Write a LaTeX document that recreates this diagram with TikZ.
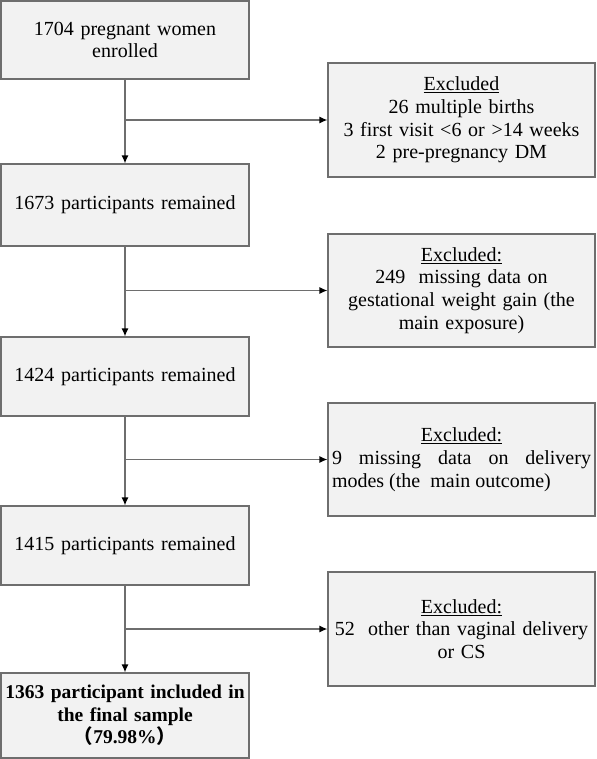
\documentclass[tikz,border=0pt]{standalone}
\usepackage{fontspec}
\setmainfont{Liberation Serif}
\newfontfamily\cjk{Noto Sans CJK SC}
\usepackage{tikz}
\usetikzlibrary{arrows.meta}
\definecolor{boxfill}{HTML}{F2F2F2}
\definecolor{boxline}{HTML}{6E6E6E}
\tikzstyle{Stage}=[rectangle, minimum width=248, text width=242, inner sep=3, align=center, draw=boxline, fill=boxfill, line width=1.2, font=\fontsize{20}{22.7}\selectfont]
\tikzstyle{Excl}=[rectangle, minimum width=267, minimum height=113, text width=259, inner sep=4, align=center, draw=boxline, fill=boxfill, line width=1.2, font=\fontsize{20}{22.7}\selectfont]
\tikzstyle{Flow}=[draw=boxline, line width=1.3, -{Latex[length=8, width=7, color=black]}]

\begin{document}
\begin{tikzpicture}[x=1pt, y=-1pt]
    \useasboundingbox (0,0) rectangle (596,759);
    \path
    (125,40) node[Stage, minimum height=78] (enrol) {1704 pregnant women\\enrolled}
    (125,205) node[Stage, minimum height=82] (remainA) {1673 participants remained}
    (125,376.5) node[Stage, minimum height=79] (remainB) {1424 participants remained}
    (125,545.5) node[Stage, minimum height=79] (remainC) {1415 participants remained}
    (125,715.5) node[Stage, minimum height=85, font=\fontsize{19.5}{22.7}\selectfont\bfseries] (final) {1363 participant included in\\the final sample\\{\cjk （}79.98\%{\cjk ）}};

    \path
    (461.5,120) node[Excl, minimum height=114] (exclA) {\underline{Excluded}\\26 multiple births\\3 first visit <6 or >14 weeks\\2 pre-pregnancy DM}
    (461.5,290.5) node[Excl] (exclB) {\underline{Excluded:}\\249\ \ missing data on\\gestational weight gain (the\\main exposure)}
    (461.5,459.5) node[Excl, align=justify] (exclC) {\hfill\underline{Excluded:}\hfill\null\par 9 missing data on delivery\linebreak modes (the\ \ main outcome)}
    (461.5,629) node[Excl, minimum height=114] (exclD) {\underline{Excluded:}\\52\ \ other than vaginal delivery\\or CS};

    \draw[Flow] (enrol) -- (remainA);
    \draw[Flow] (remainA) -- (remainB);
    \draw[Flow] (remainB) -- (remainC);
    \draw[Flow] (remainC) -- (final);

    % side branches to the exclusion boxes
    \coordinate (forkA) at (enrol.south |- exclA.west);
    \coordinate (forkB) at (enrol.south |- exclB.west);
    \coordinate (forkC) at (enrol.south |- exclC.west);
    \coordinate (forkD) at (enrol.south |- exclD.west);
    \draw[Flow] (forkA) -- (exclA.west);
    \draw[Flow] (forkB) -- (exclB.west);
    \draw[Flow] (forkC) -- (exclC.west);
    \draw[Flow] (forkD) -- (exclD.west);
\end{tikzpicture}
\end{document}
